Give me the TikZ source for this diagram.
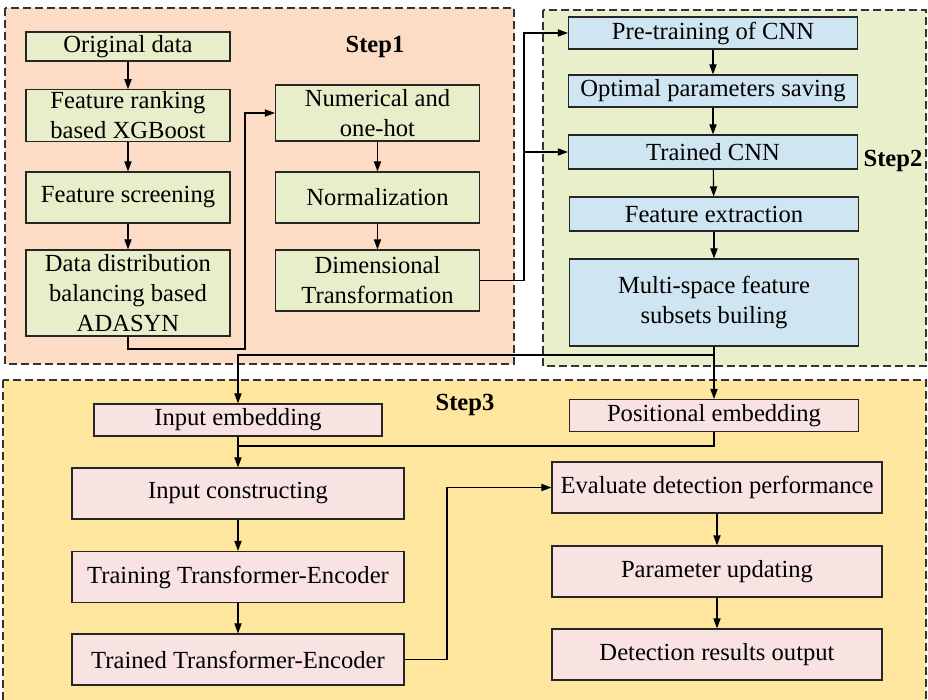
\documentclass[tikz,border=0pt]{standalone}
\usepackage{fontspec}
\setmainfont{Liberation Serif}
\usetikzlibrary{positioning,arrows.meta,backgrounds,calc}
\definecolor{oneZone}{HTML}{FDDCC5}
\definecolor{oneFill}{HTML}{E7EEC9}
\definecolor{twoZone}{HTML}{E8EFCB}
\definecolor{twoFill}{HTML}{CFE6F2}
\definecolor{threeZone}{HTML}{FEE69E}
\definecolor{threeFill}{HTML}{F8E2E2}
\definecolor{boxStroke}{HTML}{262626}
\definecolor{zoneStroke}{HTML}{333333}

\begin{document}
\begin{tikzpicture}[
  x=0.5pt, y=-0.5pt,
  font=\fontsize{12.3}{15}\selectfont,
  prep/.style  ={draw=boxStroke, fill=oneFill, line width=0.6pt, minimum width=102pt, align=center, inner sep=1pt},
  cnn/.style   ={draw=boxStroke, fill=twoFill, line width=0.6pt, minimum width=144.5pt, align=center, inner sep=1pt},
  enc/.style   ={draw=boxStroke, fill=threeFill, line width=0.6pt, minimum width=166pt, minimum height=25.5pt, align=center, inner sep=1pt},
  zone/.style  ={draw=zoneStroke, dash pattern=on 4pt off 2pt, line width=0.6pt},
  steplbl/.style={font=\fontsize{12.3}{15}\selectfont\bfseries},
  arr/.style   ={-{Triangle[length=5pt,width=3.6pt]}, line width=0.55pt},
  ln/.style    ={line width=0.55pt},
]
\useasboundingbox (0,0) rectangle (928,700);

% ============ Dashed zones ============
\begin{scope}[on background layer]
  \draw[zone, fill=oneZone]   (5,8)   rectangle (514,364);
  \draw[zone, fill=twoZone]   (543,10) rectangle (926,366);
  \draw[zone, fill=threeZone] (3,380) rectangle (926,708);
\end{scope}

% ============ Step1 ============
\node[prep, minimum height=14.5pt] (orig)    at (128,46.5)  {Original data};
\node[prep, minimum height=25.5pt] (rank)    at (128,115.5) {Feature ranking\\based XGBoost};
\node[prep, minimum height=25.5pt] (screen)  at (128,197.5) {Feature screening};
\node[prep, minimum height=43pt]   (balance) at (128,293)   {Data distribution\\balancing based\\ADASYN};

\node[prep, minimum height=28pt]   (numer) at (377.5,113)   {Numerical and\\one-hot};
\node[prep, minimum height=25.5pt] (norm)  at (377.5,197.5) {Normalization};
\node[prep, minimum height=30.5pt] (dimen) at (377.5,280.5) {Dimensional\\Transformation};

\node[steplbl] (s1) at (375,47) {Step1};

% ============ Step2 ============
\node[cnn, minimum height=16pt]   (pre)   at (713,33)    {Pre-training of CNN};
\node[cnn, minimum height=16pt]   (opt)   at (713,91)    {Optimal parameters saving};
\node[cnn, minimum height=17pt]   (tcnn)  at (713,152)   {Trained CNN};
\node[cnn, minimum height=17pt]   (fext)  at (714,214)   {Feature extraction};
\node[cnn, minimum height=43.5pt] (multi) at (714,302.5) {Multi-space feature\\subsets builing};

\node[steplbl] (s2) at (893,161) {Step2};

% ============ Step3 ============
\node[enc, minimum width=144pt, minimum height=16pt] (inemb)  at (238,420)   {Input embedding};
\node[enc, minimum width=144.5pt, minimum height=16pt] (posemb) at (714,415.5) {Positional embedding};

\node[enc] (incons)  at (238,493.5) {Input constructing};
\node[enc] (train)   at (238,577)   {Training Transformer-Encoder};
\node[enc] (trained) at (238,659.5) {Trained Transformer-Encoder};

\node[enc, minimum width=165pt] (eval)   at (717,487.5) {Evaluate detection performance};
\node[enc, minimum width=165pt] (param)  at (717,571.5) {Parameter updating};
\node[enc, minimum width=165pt] (detect) at (717,654.5) {Detection results output};

\node[steplbl] (s3) at (465,405) {Step3};

% ============ In-column vertical arrows ============
\foreach \a/\b in {orig/rank, rank/screen, screen/balance, numer/norm, norm/dimen,
                   pre/opt, opt/tcnn, tcnn/fext, fext/multi,
                   inemb/incons, incons/train, train/trained, eval/param, param/detect} {
  \draw[arr] (\a) -- (\b);
}

% ============ Cross-column connectors ============
\coordinate (j1) at (245,349);
\draw[arr] (balance.south) |- (j1) |- (numer.west);

\coordinate (j2) at (524,152);
\draw[arr] (dimen.east) -| (j2) |- (pre.west);
\draw[arr] (j2) -- (tcnn.west);

\coordinate (j3) at (714,355);
\draw[arr] (multi.south) -- (posemb.north);
\draw[arr] (j3) -| (inemb.north);

\coordinate (j4) at (238,446);
\draw[ln] (posemb.south) |- (j4);

\coordinate (j5) at (447,577);
\draw[arr] (trained.east) -| (j5) |- (eval.west);

\end{tikzpicture}
\end{document}
